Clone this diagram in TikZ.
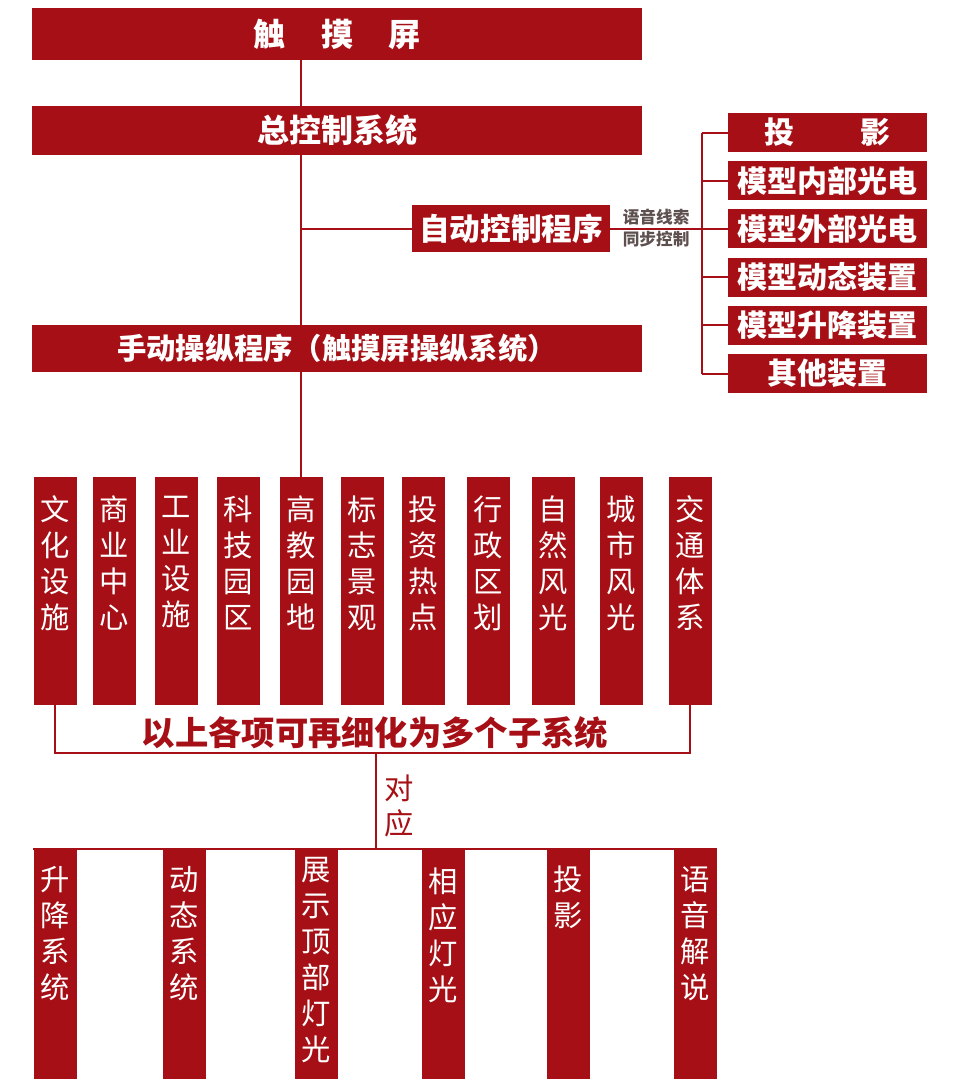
\documentclass[tikz,border=0pt]{standalone}
\usepackage{fontspec}
\setmainfont{Noto Sans CJK SC}
\usetikzlibrary{positioning}
\definecolor{deepred}{RGB}{165,15,21}
\definecolor{cuegray}{RGB}{95,80,80}

\begin{document}
\begin{tikzpicture}[
  x=0.75pt, y=-0.75pt,
  bar/.style={fill=deepred, text=white, inner sep=0pt, minimum width=457.5pt, font=\fontsize{24pt}{28pt}\selectfont\bfseries},
  sidebox/.style={fill=deepred, text=white, inner sep=0pt, minimum width=149.25pt, minimum height=29.25pt, font=\fontsize{22.5pt}{26pt}\selectfont\bfseries},
  column/.style={fill=deepred, inner sep=0pt, minimum width=32.25pt},
  vtext/.style={text=white, inner sep=0pt, align=center, font=\fontsize{22pt}{27pt}\selectfont},
  note/.style={text=deepred, inner sep=0pt, font=\bfseries},
  link/.style={draw=deepred, line width=1.5pt}
]
  \useasboundingbox[fill=white] (0,0) rectangle (965,1079);

  % main spine and bus
  \coordinate (spine) at (301,0);
  \coordinate (bus) at (702,0);

  \node[bar, minimum height=39pt] (touch) at (337,34) {触\hspace{1.1em}摸\hspace{1.1em}屏};
  \node[bar, minimum height=36.75pt] (master) at (337,130.5) {总控制系统};
  \node[bar, minimum height=35.25pt, font=\fontsize{22pt}{26pt}\selectfont\bfseries] (manual) at (337,348.5) {手动操纵程序（触摸屏操纵系统）};
  \node[fill=deepred, text=white, inner sep=0pt, minimum width=148.5pt, minimum height=35.25pt, font=\fontsize{23pt}{27pt}\selectfont\bfseries] (auto) at (511,228.5) {自动控制程序};

  % devices on the right
  \node[sidebox] (proj) at (827.5,132.5) {投\hspace{2.2em}影};
  \node[sidebox, below=6.5pt of proj] (inner) {模型内部光电};
  \node[sidebox, below=6.5pt of inner] (outer) {模型外部光电};
  \node[sidebox, below=6.5pt of outer] (motion) {模型动态装置};
  \node[sidebox, below=6.5pt of motion] (lift) {模型升降装置};
  \node[sidebox, below=6.5pt of lift] (other) {其他装置};

  \draw[link] (touch.south -| spine) -- (master.north -| spine);
  \draw[link] (master.south -| spine) -- (manual.north -| spine);
  \draw[link] (auto.west -| spine) -- (auto.west);
  \draw[link] (auto.east) -- (auto.east -| bus);
  \draw[link] (proj.west -| bus) -- (other.west -| bus);
  \foreach \n in {proj,inner,outer,motion,lift,other}
    \draw[link] (\n.west -| bus) -- (\n.west);
  \path (auto.east) -- (auto.east -| bus)
    node[midway, above=2pt, note, text=cuegray, font=\fontsize{12.5pt}{14pt}\selectfont\bfseries] (cue) {语音线索}
    node[midway, below=2pt, note, text=cuegray, font=\fontsize{12.5pt}{14pt}\selectfont\bfseries] (sync) {同步控制};

  % subject columns
  \foreach \x/\lbl [count=\i] in {55/文\\化\\设\\施, 114/商\\业\\中\\心, 176/工\\业\\设\\施,
      238.5/科\\技\\园\\区, 301/高\\教\\园\\地, 362/标\\志\\景\\观, 423.5/投\\资\\热\\点,
      488/行\\政\\区\\划, 553/自\\然\\风\\光, 621.5/城\\市\\风\\光, 690/交\\通\\体\\系} {
    \node[column, minimum height=171pt] (col\i) at (\x,591) {};
    \node[vtext, below=14pt of col\i.north] (coltext\i) {\lbl};
  }
  \draw[link] (manual.south -| col5) -- (col5.north);
  \draw[link] (col1.south) -- ++(0,48) coordinate (brace) -| (col11.south);
  \node[note, font=\fontsize{25pt}{29pt}\selectfont\bfseries] (refine) at (375,733) {以上各项可再细化为多个子系统};

  % matching systems
  \foreach \x/\d/\lbl [count=\i] in {55/13/升\\降\\系\\统, 184.5/13/动\\态\\系\\统,
      316.5/6/展\\示\\顶\\部\\灯\\光, 443.5/14/相\\应\\灯\\光, 568.5/13/投\\影, 695.5/13/语\\音\\解\\说} {
    \node[column, minimum height=172.5pt] (sub\i) at (\x,964) {};
    \node[vtext, below=\d pt of sub\i.north] (subtext\i) {\lbl};
  }
  \coordinate (join) at (376,849);
  \draw[link] (brace -| join) -- (join);
  \draw[link] (sub1.north west) -- (sub6.north east);
  \node[note, align=center, anchor=west, font=\fontsize{22pt}{26pt}\selectfont] (match) at (384,806) {对\\应};
\end{tikzpicture}
\end{document}
